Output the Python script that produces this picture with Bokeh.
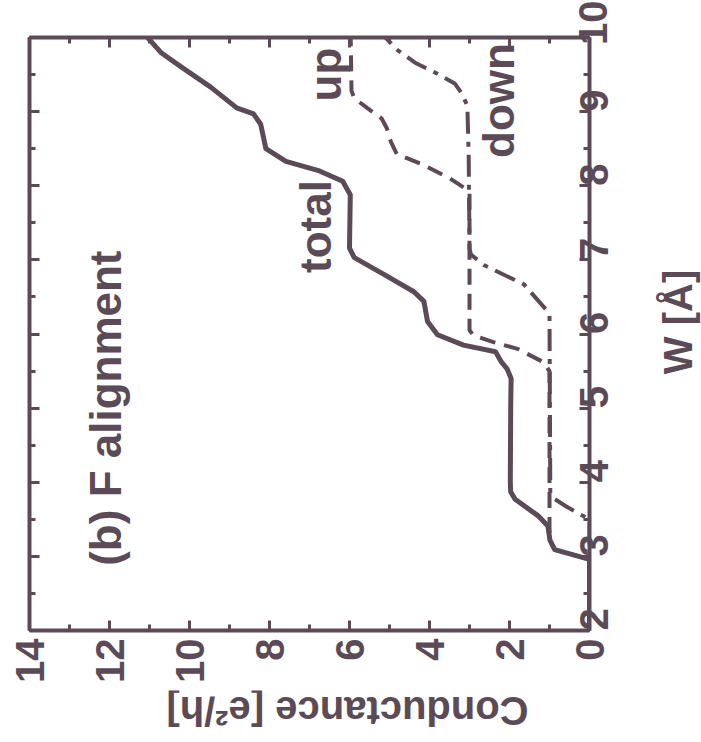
import math
from bokeh.plotting import figure
from bokeh.layouts import column, row
from bokeh.models import (Range1d, LinearAxis, SingleIntervalTicker, Label,
                          CustomJSTickFormatter)
from bokeh.embed import file_html
from bokeh.resources import INLINE

# ---------------- data ----------------
# W [Angstrom] and conductance [e^2/h]
w_total = [2.0, 2.96, 3.09, 3.22, 3.41, 3.55, 3.77, 3.87, 4.0, 5.0, 5.4, 5.53, 5.62, 5.76,
           5.85, 5.99, 6.17, 6.44, 6.57, 6.8, 7.03, 7.16, 7.88, 8.06, 8.2, 8.33, 8.5,
           8.83, 8.97, 9.05, 9.33, 9.6, 9.79, 9.94, 10.0]
g_total = [0.0, 0.0, 0.87, 0.99, 1.04, 1.29, 1.86, 1.97, 1.98, 1.97, 1.96, 2.06, 2.2, 2.35,
           3.15, 3.8, 4.05, 4.14, 4.39, 5.13, 5.88, 6.0, 5.98, 6.17, 6.75, 7.59, 8.09,
           8.22, 8.4, 8.82, 9.47, 10.2, 10.7, 10.95, 11.05]

w_up = [2.0, 2.96, 3.09, 3.22, 3.4, 5.5, 5.62, 5.8, 5.89, 5.98, 6.05, 7.9, 7.96, 8.1,
        8.3, 8.43, 8.6, 8.78, 8.91, 9.05, 9.18, 9.28, 10.0]
g_up = [0.0, 0.0, 0.87, 0.99, 1.0, 1.0, 1.15, 1.8, 2.4, 2.9, 3.0, 3.0, 3.1, 3.49,
        4.23, 4.82, 4.97, 5.07, 5.2, 5.56, 5.88, 5.95, 5.97]

w_down = [2.0, 3.5, 3.58, 3.68, 3.77, 3.85, 6.25, 6.3, 6.67, 6.8, 6.93, 7.07, 7.15,
          8.4, 9.0, 9.1, 9.25, 9.38, 9.51, 9.66, 9.83, 10.0]
g_down = [0.0, 0.0, 0.28, 0.6, 0.86, 0.98, 1.0, 1.04, 1.64, 2.14, 2.64, 2.96, 3.0,
          3.02, 3.05, 3.07, 3.2, 3.37, 3.8, 4.36, 4.8, 5.1]

g_range = (14, 0)
w_range = (2, 10)

x_label = "Conductance [e²/h]"
y_label = "W [Å]"
title_text = "(b) F alignment"

INK = "#5b4b57"
FONT = "Liberation Sans"

# ---------------- main plot ----------------
p = figure(width=650, height=690,
           x_range=Range1d(*g_range), y_range=Range1d(*w_range),
           x_axis_location="below", y_axis_location="right",
           output_backend="svg", toolbar_location=None,
           min_border_left=29, min_border_right=61,
           min_border_top=37, min_border_bottom=60)
p.background_fill_color = "white"
p.border_fill_color = "white"
p.outline_line_color = None
p.xgrid.grid_line_color = None
p.ygrid.grid_line_color = None

bottom_axis = p.below[0]
right_axis = p.right[0]
bottom_axis.ticker = SingleIntervalTicker(interval=2, num_minor_ticks=2)
right_axis.ticker = SingleIntervalTicker(interval=1, num_minor_ticks=2)

blank = CustomJSTickFormatter(code="return ''")
top_axis = LinearAxis(ticker=SingleIntervalTicker(interval=2, num_minor_ticks=2), formatter=blank)
left_axis = LinearAxis(ticker=SingleIntervalTicker(interval=1, num_minor_ticks=2), formatter=blank)
p.add_layout(top_axis, "above")
p.add_layout(left_axis, "left")

for ax in [bottom_axis, right_axis, top_axis, left_axis]:
    ax.axis_line_color = INK
    ax.axis_line_width = 4
    ax.major_tick_line_color = INK
    ax.major_tick_line_width = 3
    ax.major_tick_in = 10
    ax.major_tick_out = 0
    ax.minor_tick_line_color = INK
    ax.minor_tick_line_width = 3
    ax.minor_tick_in = 6
    ax.minor_tick_out = 0
    ax.major_label_text_font = FONT
    ax.major_label_text_font_style = "bold"
    ax.major_label_text_color = INK
    ax.major_label_orientation = math.pi / 2

for ax in [top_axis, left_axis]:
    ax.major_label_text_font_size = "10px"
    ax.major_label_standoff = 0

bottom_axis.major_label_text_font_size = "40px"
right_axis.major_label_text_font_size = "40px"
bottom_axis.major_label_standoff = 8
right_axis.major_label_standoff = 4

# curves
p.line(g_total, w_total, line_color=INK, line_width=5, line_join="round")
p.line(g_up, w_up, line_color=INK, line_width=4, line_dash="16 9")
p.line(g_down, w_down, line_color=INK, line_width=4, line_dash="22 8 5 8")

def make_label(x, y, text, angle, size):
    return Label(x=x, y=y, text=text, angle=angle,
                 text_align="center", text_baseline="middle",
                 text_font=FONT, text_font_style="bold",
                 text_font_size=size, text_color=INK)

p.add_layout(make_label(6.85, 7.45, "total", math.pi / 2, "44px"))
p.add_layout(make_label(6.6, 9.5, "up", math.pi / 2, "44px"))
p.add_layout(make_label(2.27, 9.15, "down", math.pi / 2, "44px"))
p.add_layout(make_label(12.1, 5.0, title_text, math.pi / 2, "44px"))

# ---------------- axis-title strips (rotated text like the reference) ----------------
def strip(w, h):
    f = figure(width=w, height=h, x_range=Range1d(0, w), y_range=Range1d(0, h),
               x_axis_location=None, y_axis_location=None,
               output_backend="svg", toolbar_location=None, min_border=0)
    f.outline_line_color = None
    f.background_fill_color = "white"
    f.border_fill_color = "white"
    f.xgrid.visible = False
    f.ygrid.visible = False
    return f

right_strip = strip(51, 690)
right_strip.add_layout(make_label(27, 359, y_label, math.pi / 2, "40px"))

bottom_strip = strip(701, 52)
bottom_strip.add_layout(make_label(347, 32, x_label, math.pi, "40px"))

layout = column(row(p, right_strip, spacing=0), bottom_strip, spacing=0)

open("out.html", "w").write(file_html(layout, INLINE))
